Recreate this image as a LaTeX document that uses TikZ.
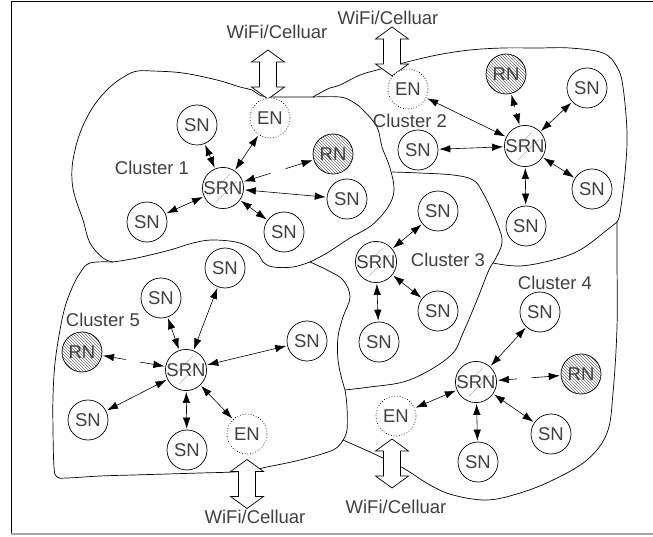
\documentclass[tikz,border=0pt]{standalone}
\usepackage{fontspec}
\setmainfont{Liberation Sans}
\usetikzlibrary{arrows.meta,calc,patterns}
\definecolor{txt}{HTML}{404040}

\tikzset{
  wifi/.pic={
    \draw[line width=0.7pt, fill=white]
      (0,-24.5) -- (16.5,-12.5) -- (8.5,-12.5) -- (8.5,12.5) -- (16.5,12.5)
      -- (0,24.5) -- (-16.5,12.5) -- (-8.5,12.5) -- (-8.5,-12.5) -- (-16.5,-12.5) -- cycle;
  }
}

\begin{document}
\begin{tikzpicture}[x=1pt,y=-1pt,
  every node/.style={font=\fontsize{18.5}{22}\selectfont, text=txt},
  base/.style={circle, draw=black, line width=0.7pt, minimum size=40pt, inner sep=0pt},
  sn/.style={base, fill=white},
  en/.style={base, fill=white, dotted},
  rn/.style={base, preaction={fill=white}, pattern=north west lines, pattern color=black!55},
  srn/.style={base, fill=white, path picture={
      \draw[gray!55, line width=0.6pt]
        ($(path picture bounding box.center)+(-14,7)$) -- ($(path picture bounding box.center)+(7,-14)$)
        ($(path picture bounding box.center)+(-7,14)$) -- ($(path picture bounding box.center)+(14,-7)$);}},
  link/.style={{Latex[length=11pt,width=7.5pt]}-{Latex[length=11pt,width=7.5pt]}, line width=0.6pt, shorten >=1pt, shorten <=1pt},
  half/.style={-{Latex[length=11pt,width=7.5pt]}, line width=0.6pt, shorten >=1pt},
  border/.style={line width=0.7pt},
  lbl/.style={inner sep=0pt},
]
\useasboundingbox (0,0) rectangle (653,537);

% frame
\draw[line width=1pt] (653,2) -- (11,2) -- (11,534);
\draw[gray!70, line width=1.6pt] (11,534) -- (653,534);

% cluster outlines
\draw[border] plot[smooth, tension=0.6] coordinates {(113,262) (103,258) (90,243) (83,220) (75,197) (72,180) (73,160) (80,133) (93,107) (110,87) (127,75) (138,71) (153,71) (183,73) (217,80) (240,87) (252,90) (262,96) (280,97) (313,97)};
\draw[border] plot[smooth, tension=0.6] coordinates {(313,97) (340,97) (353,102) (363,110) (377,127) (382,147) (390,168) (394,190) (388,207) (372,225) (350,238) (327,253) (310,262)};
\draw[border] plot[smooth, tension=0.6] coordinates {(310,262) (293,267) (273,267) (263,262) (257,253) (240,243) (213,240) (193,243) (170,250) (137,258) (113,262)};
\draw[border] plot[smooth, tension=0.6] coordinates {(113,262) (90,263) (80,273) (72,288) (65,307) (60,330) (55,363) (53,397) (53,430) (54,467) (57,477) (67,478) (100,476) (133,475) (167,474) (200,473) (233,472) (253,470) (267,467) (300,460) (333,450) (343,440)};
\draw[border] plot[smooth, tension=0.6] coordinates {(310,262) (327,270) (343,280) (350,297) (343,317) (338,337) (338,360) (342,380) (345,390) (347,407) (347,430) (343,440)};
\draw[border] plot[smooth, tension=0.6] coordinates {(392,172) (420,173) (453,175) (473,180) (483,193) (497,223) (502,243) (493,263)};
\draw[border] plot[smooth, tension=0.6] coordinates {(493,263) (488,272) (477,300) (463,333) (453,353) (430,370) (403,382) (370,387) (345,390)};
\draw[border] plot[smooth, tension=0.6] coordinates {(493,263) (520,266) (553,260) (580,250) (607,230) (617,222)};
\draw[border] plot[smooth, tension=0.6] coordinates {(313,97) (320,93) (330,88) (340,85) (360,75) (377,70) (403,63) (437,55) (470,50) (503,48) (537,48) (570,48) (603,53) (617,67) (623,87) (627,133) (625,173) (620,213) (617,222)};
\draw[border] plot[smooth, tension=0.6] coordinates {(617,222) (617,260) (617,327) (613,393) (607,433) (587,460) (553,480) (520,493) (487,500) (453,495) (430,485) (403,468) (370,452) (343,440)};

% gateway links
\pic at (268,74.5) {wifi};
\pic at (392,51.5) {wifi};
\pic at (392,463.5) {wifi};
\pic at (247,484) {wifi};
\node[lbl] (w1) at (277,32) {WiFi/Celluar};
\node[lbl] (w2) at (388,18) {WiFi/Celluar};
\node[lbl] (w4) at (396,507) {WiFi/Celluar};
\node[lbl] (w5) at (255,517) {WiFi/Celluar};

% cluster labels
\node[lbl] (c1) at (152,168) {Cluster 1};
\node[lbl] (c2) at (410,121) {Cluster 2};
\node[lbl] (c3) at (448,260) {Cluster 3};
\node[lbl] (c4) at (555,283) {Cluster 4};
\node[lbl] (c5) at (103,320) {Cluster 5};

% cluster 1
\node[srn] (srn1) at (223,188) {SRN};
\node[sn] (s1a) at (197,125) {SN};
\node[en] (en1) at (270,118) {EN};
\node[rn] (rn1) at (333,154) {RN};
\node[sn] (s1b) at (347,199) {SN};
\node[sn] (s1c) at (147,222) {SN};
\node[sn] (s1d) at (284,232) {SN};

% cluster 2
\node[srn] (srn2) at (525,146) {SRN};
\node[en] (en2) at (408,89) {EN};
\node[rn] (rn2) at (506,74) {RN};
\node[sn] (s2a) at (587,88) {SN};
\node[sn] (s2b) at (418,150) {SN};
\node[sn] (s2c) at (592,189) {SN};
\node[sn] (s2d) at (526,226) {SN};

% cluster 3
\node[srn] (srn3) at (376,262) {SRN};
\node[sn] (s3a) at (438,211) {SN};
\node[sn] (s3b) at (438,311) {SN};
\node[sn] (s3c) at (379,342) {SN};

% cluster 4
\node[srn] (srn4) at (476,382) {SRN};
\node[sn] (s4a) at (540,312) {SN};
\node[rn] (rn4) at (581,374) {RN};
\node[en] (en4) at (396,416) {EN};
\node[sn] (s4b) at (551,434) {SN};
\node[sn] (s4c) at (478,462) {SN};

% cluster 5
\node[srn] (srn5) at (186,370) {SRN};
\node[sn] (s5a) at (225,268) {SN};
\node[sn] (s5b) at (161,298) {SN};
\node[rn] (rn5) at (82,352) {RN};
\node[sn] (s5c) at (307,341) {SN};
\node[sn] (s5d) at (88,420) {SN};
\node[sn] (s5e) at (187,450) {SN};
\node[en] (en5) at (247,434) {EN};

% links
\foreach \a/\b in {srn1/s1a, srn1/en1, srn1/s1b, srn1/s1c, srn1/s1d,
                   srn2/en2, srn2/s2a, srn2/s2b, srn2/s2c, srn2/s2d,
                   srn3/s3a, srn3/s3b, srn3/s3c,
                   srn4/s4a, srn4/en4, srn4/s4b, srn4/s4c,
                   srn5/s5a, srn5/s5b, srn5/s5c, srn5/s5d, srn5/s5e, srn5/en5}
  \draw[link] (\a) -- (\b);

% relay links, broken in the middle
\draw[half] ($(srn1)!0.43!(rn1)$) -- (srn1);
\draw[half] ($(srn1)!0.57!(rn1)$) -- (rn1);
\draw[half] ($(srn2)!0.46!(rn2)$) -- (srn2);
\draw[half] ($(srn2)!0.54!(rn2)$) -- (rn2);
\draw[half] ($(srn4)!0.39!(rn4)$) -- (srn4);
\draw[half] ($(srn4)!0.53!(rn4)$) -- (rn4);
\draw[half] ($(srn5)!0.44!(rn5)$) -- (srn5);
\draw[half] ($(srn5)!0.58!(rn5)$) -- (rn5);
\end{tikzpicture}
\end{document}
